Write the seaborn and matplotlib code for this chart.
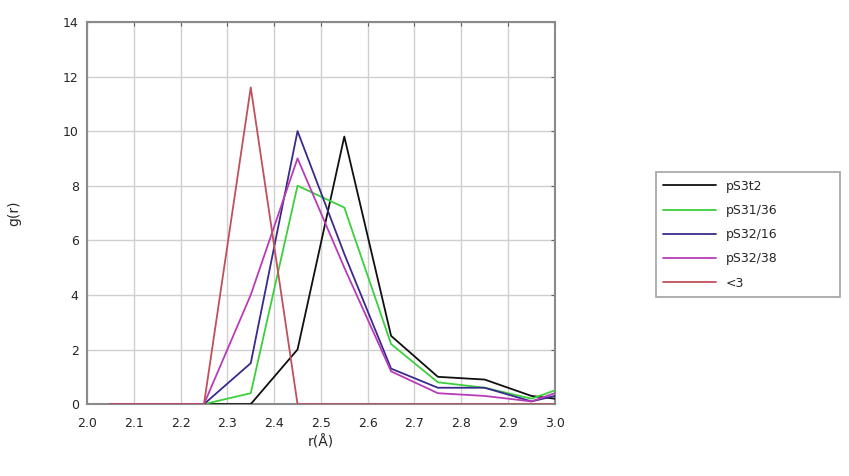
import pandas as pd
import matplotlib
matplotlib.use('Agg')
import matplotlib.pyplot as plt
import seaborn as sns

# distâncias r (centros dos bins) e g(r) de cada série
r = [2.05, 2.15, 2.25, 2.35, 2.45, 2.55, 2.65, 2.75, 2.85, 2.95, 3.05]
g_ps3t2 = [0, 0, 0, 0, 2.0, 9.8, 2.5, 1.0, 0.9, 0.3, 0.1]
g_ps31 = [0, 0, 0, 0.4, 8.0, 7.2, 2.2, 0.8, 0.6, 0.2, 0.8]
g_ps32a = [0, 0, 0, 1.5, 10.0, 5.5, 1.3, 0.6, 0.6, 0.1, 0.5]
g_ps32b = [0, 0, 0, 4.0, 9.0, 5.0, 1.2, 0.4, 0.3, 0.1, 0.7]
g_lt3 = [0, 0, 0, 11.6, 0, 0, 0, 0, 0, 0, 0]

labels = ['pS3t2', 'pS31/36', 'pS32/16', 'pS32/38', '<3']
cores = ['#101010', '#3ccf3c', '#3b2a8c', '#b83cb8', '#c0505a']
series = [g_ps3t2, g_ps31, g_ps32a, g_ps32b, g_lt3]

# monta dataframe longo
df = pd.concat([pd.DataFrame({'r': r, 'g': s, 'serie': lab}) for s, lab in zip(series, labels)])

sns.set_style('white')
fig = plt.figure(figsize=(8.49, 4.76), dpi=100)
ax = fig.add_axes([0.1025, 0.151, 0.551, 0.803])

sns.lineplot(data=df, x='r', y='g', hue='serie', palette=dict(zip(labels, cores)),
             linewidth=1.3, ax=ax, legend=False, sort=False, zorder=3)
ax.set_xlim(2.0, 3.0)
ax.set_ylim(0, 14)

ax.set_xticks([2.0 + 0.1 * i for i in range(11)])
ax.set_xticklabels(['2.0', '2.1', '2.2', '2.3', '2.4', '2.5', '2.6', '2.7', '2.8', '2.9', '3.0'])
ax.set_yticks(range(0, 15, 2))
ax.tick_params(direction='in', top=True, right=True, labelsize=9, length=3, color='#606060')
ax.tick_params(axis='x', pad=9)
ax.tick_params(axis='y', pad=6)
ax.grid(True, color='#cfcfcf', linewidth=1)
for s in ax.spines.values():
    s.set_color('#8a8a8a')
    s.set_linewidth(1.5)

ax.set_xlabel('r(Å)', fontsize=10, labelpad=4)
ax.set_ylabel('g(r)', fontsize=10, labelpad=30)

# legenda fora do eixo, à direita
handles = [plt.Line2D([], [], color=c, lw=1.3) for c in cores]
leg = fig.legend(handles, labels, loc='center', bbox_to_anchor=(0.765, 0.372, 0.232, 0.27),
                 mode='expand', fontsize=9, frameon=True, fancybox=False, borderpad=0.6,
                 handlelength=4.2, labelspacing=0.9, edgecolor='#8a8a8a')
leg.get_frame().set_linewidth(1.2)

fig.savefig('out.png', dpi=100)
